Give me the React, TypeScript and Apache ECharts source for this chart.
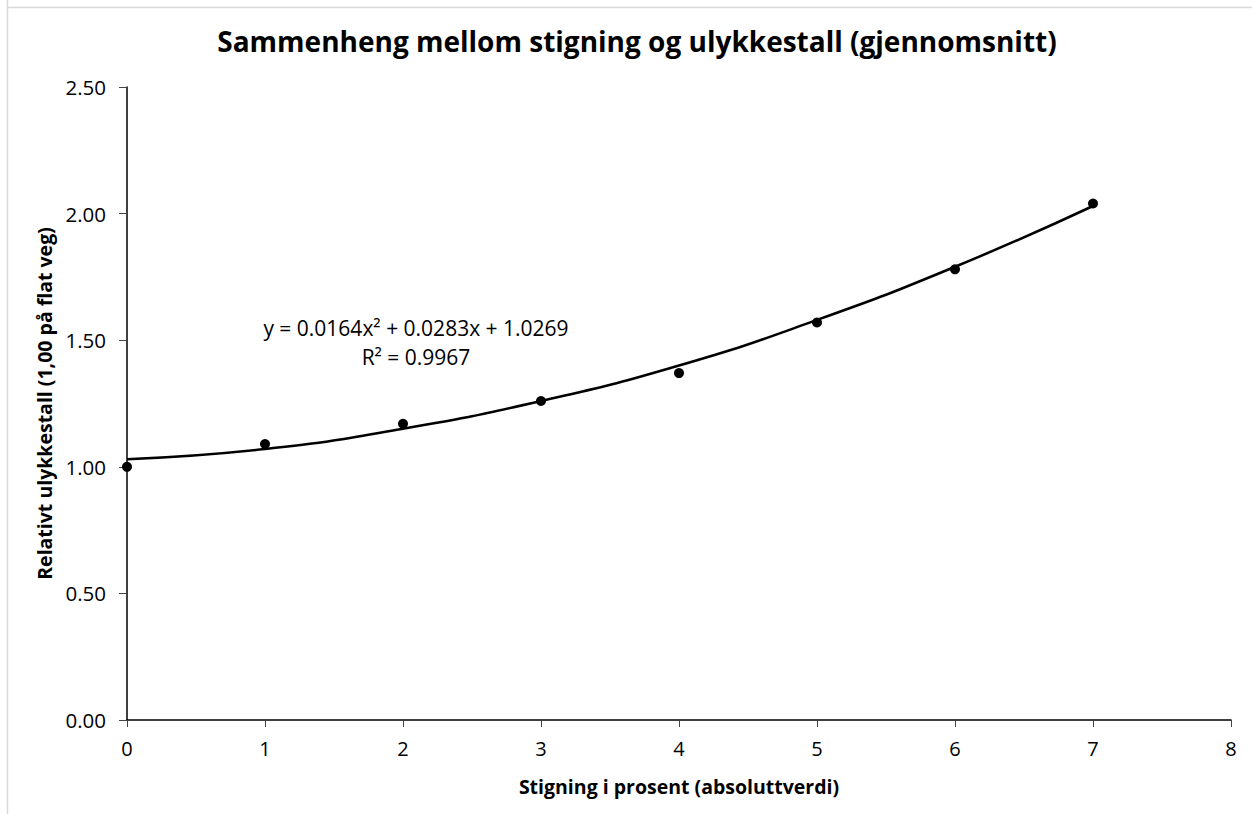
import React, { useEffect, useRef } from "react";
import * as echarts from "echarts";

const xValues = [0, 1, 2, 3, 4, 5, 6, 7];
const observed = [1.0, 1.09, 1.17, 1.26, 1.37, 1.57, 1.78, 2.04];
// trendline values
const trendValues = [1.03, 1.07, 1.15, 1.26, 1.4, 1.58, 1.79, 2.03];
const titleText = "Sammenheng mellom stigning og ulykkestall (gjennomsnitt)";
const xName = "Stigning i prosent (absoluttverdi)";
const yName = "Relativt ulykkestall (1,00 på flat veg)";
const equationLines = ["y = 0.0164x² + 0.0283x + 1.0269", "R² = 0.9967"];

const FONT = "'Open Sans', 'Noto Sans', sans-serif";

export default function App() {
  const ref = useRef<HTMLDivElement>(null);
  useEffect(() => {
    if (!ref.current) return;
    const chart = echarts.init(ref.current, null, { renderer: "svg" });
    chart.setOption({
      animation: false,
      backgroundColor: "#ffffff",
      title: {
        text: titleText,
        left: 632,
        top: 22,
        textAlign: "center",
        textStyle: { fontFamily: FONT, fontSize: 28, fontWeight: "bold", color: "#000" },
      },
      grid: { left: 127, right: 21, top: 87, bottom: 94 },
      xAxis: {
        type: "value",
        min: 0,
        max: 8,
        interval: 1,
        name: xName,
        nameLocation: "middle",
        nameGap: 56,
        nameTextStyle: { fontFamily: FONT, fontSize: 19.5, fontWeight: "bold", color: "#000" },
        axisLine: { show: true, lineStyle: { color: "#000", width: 1.5 } },
        axisTick: { show: true, length: 7, lineStyle: { color: "#444" } },
        axisLabel: { fontFamily: FONT, fontSize: 20, color: "#000", margin: 18 },
        splitLine: { show: false },
      },
      yAxis: {
        type: "value",
        min: 0,
        max: 2.5,
        interval: 0.5,
        name: yName,
        nameLocation: "middle",
        nameGap: 72,
        nameRotate: 90,
        nameTextStyle: { fontFamily: FONT, fontSize: 19.5, fontWeight: "bold", color: "#000" },
        axisLine: { show: true, lineStyle: { color: "#000", width: 1.5 } },
        axisTick: { show: true, length: 8, lineStyle: { color: "#444" } },
        axisLabel: {
          fontFamily: FONT,
          fontSize: 20.5,
          color: "#000",
          margin: 21,
          formatter: (v: number) => v.toFixed(2),
        },
        splitLine: { show: false },
      },
      series: [
        {
          type: "line",
          data: xValues.map((x, i) => [x, trendValues[i]]),
          smooth: true,
          showSymbol: false,
          lineStyle: { color: "#000", width: 2.5 },
          z: 2,
        },
        {
          type: "scatter",
          data: xValues.map((x, i) => [x, observed[i]]),
          symbol: "circle",
          symbolSize: 10,
          itemStyle: { color: "#000", opacity: 1 },
          z: 3,
        },
      ],
      graphic: [
        { type: "line", shape: { x1: 7.5, y1: 0, x2: 7.5, y2: 814 }, style: { stroke: "#d9d9d9", lineWidth: 1.5 } },
        { type: "line", shape: { x1: 7, y1: 7.5, x2: 1252, y2: 7.5 }, style: { stroke: "#d9d9d9", lineWidth: 1.5 } },
        {
          type: "text",
          x: 416,
          y: 328,
          style: {
            text: equationLines[0],
            fontFamily: FONT,
            fontSize: 21,
            fill: "#000",
            textAlign: "center",
            textVerticalAlign: "middle",
          },
        },
        {
          type: "text",
          x: 416,
          y: 357,
          style: {
            text: equationLines[1],
            fontFamily: FONT,
            fontSize: 21,
            fill: "#000",
            textAlign: "center",
            textVerticalAlign: "middle",
          },
        },
      ],
    });
    return () => chart.dispose();
  }, []);
  return <div ref={ref} style={{ width: 1252, height: 814, position: "absolute", left: 0, top: 0 }} />;
}
